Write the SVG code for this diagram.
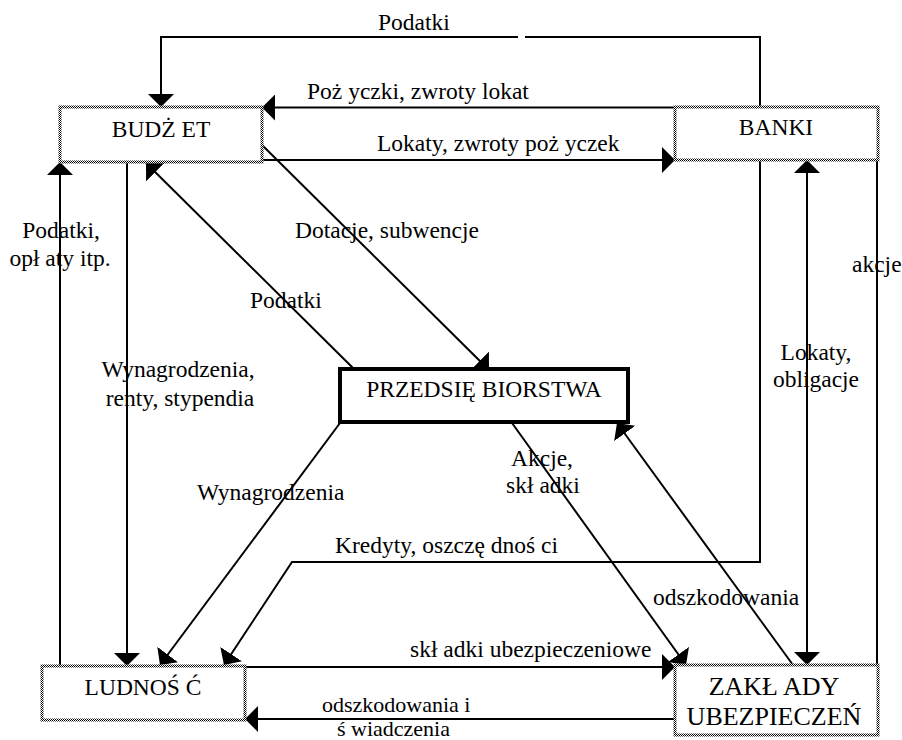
<svg xmlns="http://www.w3.org/2000/svg" width="902" height="740" viewBox="0 0 902 740" font-family="'Liberation Serif', 'DejaVu Serif', serif">
<style>
text{font-family:'Liberation Serif','DejaVu Serif',serif;font-size:23.5px;fill:#000}
.m{text-anchor:middle}
.box{fill:#fff;stroke:url(#chk);stroke-width:3}
.firm{fill:#fff;stroke:#000;stroke-width:4}
.c{fill:none;stroke:#000;stroke-width:2}
.a{marker-end:url(#ah)}
</style>
<defs>
<pattern id="chk" width="2" height="2" patternUnits="userSpaceOnUse">
<rect width="2" height="2" fill="#fff"/>
<rect width="1" height="1" fill="#000"/>
<rect x="1" y="1" width="1" height="1" fill="#000"/>
</pattern>
<marker id="ah" viewBox="0 0 13 26" refX="13" refY="13" markerWidth="13" markerHeight="26" markerUnits="userSpaceOnUse" orient="auto-start-reverse">
<path d="M0,0 L13,13 L0,26 Z" fill="#000"/>
</marker>
</defs>

<g id="connectors">
<path class="c" d="M760,107 V37 H525 M518,37 H161 V107" marker-end="url(#ah)"/>
<path class="c a" d="M675,107.5 H262"/>
<path class="c a" d="M262,160 H675"/>
<path class="c a" d="M60,666 V162"/>
<path class="c a" d="M127,162 V666"/>
<path class="c a" d="M353,368 L146,163"/>
<path class="c a" d="M262,145 L489,370"/>
<path class="c a" d="M340,423 L160,665"/>
<path class="c a" d="M760,160 V562 H292 L224,665"/>
<path class="c a" d="M512,423 L686,665"/>
<path class="c a" d="M793,665 L617,423"/>
<path class="c a" d="M245,667 H675"/>
<path class="c a" d="M675,719 H245"/>
<path class="c a" d="M807,160 V665" marker-start="url(#ah)"/>
<path class="c" d="M877,160 V665"/>
</g>

<g id="budzet">
<rect class="box" x="60" y="107" width="202" height="55"/>
<text class="m" x="161" y="137">BUDŻ ET</text>
</g>
<g id="banki">
<rect class="box" x="675" y="107" width="203" height="53"/>
<text class="m" x="776" y="135">BANKI</text>
</g>
<g id="przedsiebiorstwa">
<rect class="firm" x="340" y="369" width="288" height="53"/>
<text class="m" x="484" y="397">PRZEDSIĘ BIORSTWA</text>
</g>
<g id="ludnosc">
<rect class="box" x="42" y="666" width="203" height="54"/>
<text class="m" x="143" y="695">LUDNOŚ Ć</text>
</g>
<g id="zaklady">
<rect class="box" x="675" y="665" width="203" height="70"/>
<text class="m" x="774" y="695" style="font-size:26px">ZAKŁ ADY</text>
<text class="m" x="774" y="725" style="font-size:26px">UBEZPIECZEŃ</text>
</g>

<g id="labels">
<text x="378" y="30">Podatki</text>
<text x="307" y="99">Poż yczki, zwroty lokat</text>
<text x="377" y="151">Lokaty, zwroty poż yczek</text>
<text class="m" x="61" y="238">Podatki,</text>
<text class="m" x="60" y="266">opł aty itp.</text>
<text x="295" y="238">Dotacje, subwencje</text>
<text x="250" y="308">Podatki</text>
<text class="m" x="178" y="377">Wynagrodzenia,</text>
<text class="m" x="180" y="406">renty, stypendia</text>
<text x="197" y="500">Wynagrodzenia</text>
<text class="m" x="542" y="466">Akcje,</text>
<text class="m" x="543" y="493">skł adki</text>
<text x="335" y="553">Kredyty, oszczę dnoś ci</text>
<text class="m" x="816" y="360">Lokaty,</text>
<text class="m" x="816" y="387">obligacje</text>
<text x="852" y="272">akcje</text>
<text x="653" y="605">odszkodowania</text>
<text x="410" y="657">skł adki ubezpieczeniowe</text>
<text x="322" y="712" style="font-size:22px">odszkodowania i</text>
<text x="337" y="736" style="font-size:22px">ś wiadczenia</text>
</g>
</svg>
